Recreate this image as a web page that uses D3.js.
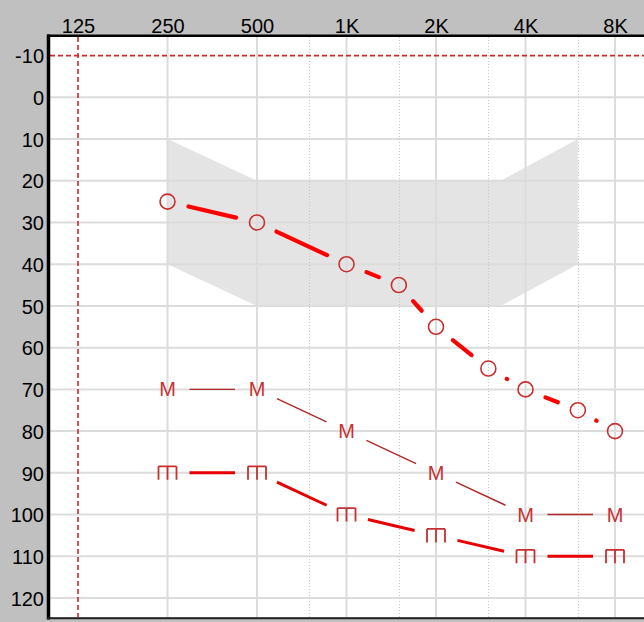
<!DOCTYPE html>
<html>
<head>
<meta charset="utf-8">
<script src="https://cdn.jsdelivr.net/npm/d3@7"></script>
<style>
  html, body { margin: 0; padding: 0; background: #c0c0c0; }
  svg { display: block; }
</style>
</head>
<body>
<svg id="chart" width="644" height="622"></svg>
<script>
// ---------- data ----------
const freqTicks = [125, 250, 500, 1000, 2000, 4000, 8000];
const freqLabels = ["125", "250", "500", "1K", "2K", "4K", "8K"];
const midFreqs = [750, 1500, 3000, 6000];
const dbTicks = [-10, 0, 10, 20, 30, 40, 50, 60, 70, 80, 90, 100, 110, 120];

const normalFreqs = [250, 500, 3300, 6000];
const normalTop = [10, 20, 20, 10];
const normalBottom = [40, 50, 50, 40];

const acFreqs = [250, 500, 1000, 1500, 2000, 3000, 4000, 6000, 8000];
const acValues = [25, 30, 40, 45, 55, 65, 70, 75, 80];

const mFreqs = [250, 500, 1000, 2000, 4000, 8000];
const mValues = [70, 70, 80, 90, 100, 100];

const bFreqs = [250, 500, 1000, 2000, 4000, 8000];
const bValues = [90, 90, 100, 105, 110, 110];

// ---------- layout ----------
const svg = d3.select("#chart");
const W = 644, H = 622;
const plotL = 50, plotT = 37, plotB = 617;

const x = d3.scaleLog().base(2).domain([125, 8000]).range([78, 615]);
const y = d3.scaleLinear().domain([0, 120]).range([97.3, 598]);

const FONT = "'Liberation Sans', Arial, sans-serif";
const MARK = "#c83030";

svg.append("rect").attr("width", W).attr("height", H).attr("fill", "#c0c0c0");
svg.append("rect").attr("x", plotL).attr("y", plotT)
  .attr("width", W - plotL).attr("height", plotB - plotT).attr("fill", "#ffffff");

// normal band
const bandPts = normalFreqs.map((f, i) => [x(f), y(normalTop[i])])
  .concat(normalFreqs.map((f, i) => [x(f), y(normalBottom[i])]).reverse());
svg.append("path")
  .attr("d", d3.line()(bandPts) + "Z")
  .attr("fill", "#e4e4e4");

// grid
const grid = svg.append("g");
grid.selectAll("line.h").data(dbTicks.filter(d => d !== -10)).join("line")
  .attr("x1", plotL).attr("x2", W)
  .attr("y1", d => y(d)).attr("y2", d => y(d))
  .attr("stroke", "#dcdcdc").attr("stroke-width", 2);
grid.selectAll("line.v").data(freqTicks.filter(d => d !== 125)).join("line")
  .attr("x1", d => x(d)).attr("x2", d => x(d))
  .attr("y1", plotT).attr("y2", plotB)
  .attr("stroke", "#dcdcdc").attr("stroke-width", 2);
grid.selectAll("line.m").data(midFreqs).join("line")
  .attr("x1", d => Math.round(x(d)) + 0.5).attr("x2", d => Math.round(x(d)) + 0.5)
  .attr("y1", plotT).attr("y2", plotB)
  .attr("stroke", "#c8c8c8").attr("stroke-width", 1)
  .attr("stroke-dasharray", "1,2");

// red dashed reference lines (-10 dB and 125 Hz)
svg.append("line")
  .attr("x1", plotL).attr("x2", W).attr("y1", y(-10)).attr("y2", y(-10))
  .attr("stroke", "#cc2a2a").attr("stroke-width", 1.6).attr("stroke-dasharray", "5,3");
svg.append("line")
  .attr("x1", x(125)).attr("x2", x(125)).attr("y1", plotT).attr("y2", plotB)
  .attr("stroke", "#cc2a2a").attr("stroke-width", 1.6).attr("stroke-dasharray", "5,3");

// borders
svg.append("line").attr("x1", 48.5).attr("x2", 48.5).attr("y1", 34.5).attr("y2", 619.5)
  .attr("stroke", "#000").attr("stroke-width", 3.5);
svg.append("line").attr("x1", 47).attr("x2", W).attr("y1", 35.8).attr("y2", 35.8)
  .attr("stroke", "#000").attr("stroke-width", 2.5);
svg.append("line").attr("x1", 47).attr("x2", W).attr("y1", 618.3).attr("y2", 618.3)
  .attr("stroke", "#222").attr("stroke-width", 2);

// axes
const topAxis = d3.axisTop(x).tickValues(freqTicks)
  .tickFormat((d, i) => freqLabels[i]).tickSize(0).tickPadding(3);
const gTop = svg.append("g").attr("transform", "translate(0,36)").call(topAxis);
gTop.select(".domain").remove();
gTop.selectAll("text").attr("font-family", FONT).attr("font-size", 20).attr("fill", "#000");

const leftAxis = d3.axisLeft(y).tickValues(dbTicks).tickFormat(d => String(d))
  .tickSize(0).tickPadding(4);
const gLeft = svg.append("g").attr("transform", "translate(48,0)").call(leftAxis);
gLeft.select(".domain").remove();
gLeft.selectAll("text").attr("font-family", FONT).attr("font-size", 20).attr("fill", "#000")
  .attr("dy", "0.36em");

// helper: shortened segments between consecutive points
function segments(freqs, vals, shrink) {
  const out = [];
  for (let i = 0; i < freqs.length - 1; i++) {
    const x1 = x(freqs[i]), y1 = y(vals[i]), x2 = x(freqs[i + 1]), y2 = y(vals[i + 1]);
    const L = Math.hypot(x2 - x1, y2 - y1);
    const ux = (x2 - x1) / L, uy = (y2 - y1) / L;
    out.push({ x1: x1 + ux * shrink, y1: y1 + uy * shrink, x2: x2 - ux * shrink, y2: y2 - uy * shrink });
  }
  return out;
}

// air conduction line (thick red)
svg.append("g").selectAll("line").data(segments(acFreqs, acValues, 21.5)).join("line")
  .attr("x1", d => d.x1).attr("y1", d => d.y1).attr("x2", d => d.x2).attr("y2", d => d.y2)
  .attr("stroke", "#ff0000").attr("stroke-width", 4.2).attr("stroke-linecap", "round");
svg.append("g").selectAll("circle").data(acFreqs.map((f, i) => [f, acValues[i]])).join("circle")
  .attr("cx", d => x(d[0])).attr("cy", d => y(d[1])).attr("r", 7.5)
  .attr("fill", "none").attr("stroke", MARK).attr("stroke-width", 1.6);

// M series
svg.append("g").selectAll("line").data(segments(mFreqs, mValues, 22)).join("line")
  .attr("x1", d => d.x1).attr("y1", d => d.y1).attr("x2", d => d.x2).attr("y2", d => d.y2)
  .attr("stroke", "#b02828").attr("stroke-width", 1.4);
svg.append("g").selectAll("text").data(mFreqs.map((f, i) => [f, mValues[i]])).join("text")
  .attr("x", d => x(d[0])).attr("y", d => y(d[1]) + 7)
  .attr("text-anchor", "middle").attr("font-family", FONT).attr("font-size", 20)
  .attr("fill", MARK).text("M");

// bracket series
svg.append("g").selectAll("line").data(segments(bFreqs, bValues, 22)).join("line")
  .attr("x1", d => d.x1).attr("y1", d => d.y1).attr("x2", d => d.x2).attr("y2", d => d.y2)
  .attr("stroke", "#e80000").attr("stroke-width", 3);
svg.append("g").selectAll("path").data(bFreqs.map((f, i) => [f, bValues[i]])).join("path")
  .attr("transform", d => `translate(${x(d[0])},${y(d[1])})`)
  .attr("d", "M-9,-6.5H9M-9,-6.5V7M0,-6.5V7M9,-6.5V7")
  .attr("fill", "none").attr("stroke", MARK).attr("stroke-width", 1.8);
</script>
</body>
</html>
